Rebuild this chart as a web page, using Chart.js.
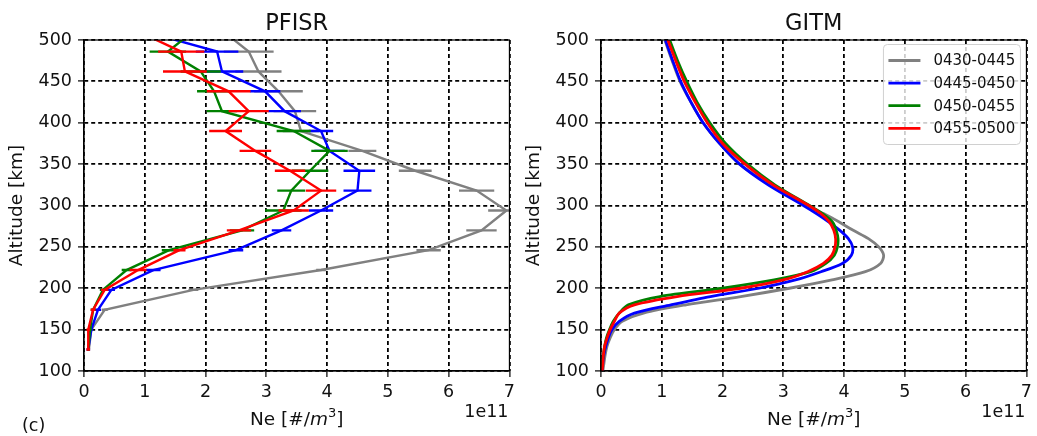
<!DOCTYPE html>
<html>
<head>
<meta charset="utf-8">
<script src="https://cdn.jsdelivr.net/npm/chart.js@4.4.1/dist/chart.umd.min.js"></script>
<style>
  html, body { margin: 0; padding: 0; background: #fff; }
  #wrap { position: relative; width: 1037px; height: 436px; }
  canvas { position: absolute; top: 0; }
  #pfisr { left: 0; }
  #gitm { left: 520px; }
</style>
</head>
<body>
<div id="wrap">
  <canvas id="pfisr" width="520" height="436"></canvas>
  <canvas id="gitm" width="517" height="436"></canvas>
</div>
<script>
// time windows (UT) and line colours
const periods = ['0430-0445', '0445-0450', '0450-0455', '0455-0500'];
const colors = ['#808080', '#0000ff', '#008000', '#ff0000'];

// x ticks (Ne in units of 1e11 m^-3) and y ticks (km)
const xTicks = [0, 1, 2, 3, 4, 5, 6, 7];
const yTicks = [100, 150, 200, 250, 300, 350, 400, 450, 500];

// PFISR range gates [km], Ne [1e11 /m^3] and 1-sigma errors
const pfisrAlt = [126, 150, 174, 198, 222, 246, 270, 294, 318, 342, 366, 390, 414, 438, 462, 486, 510];
const pfisrGray  = [0.08, 0.12, 0.34, 1.80, 3.90, 5.67, 6.54, 6.95, 6.46, 5.45, 4.58, 3.57, 3.47, 3.20, 2.87, 2.71, 2.30];
const pfisrBlue  = [0.07, 0.12, 0.23, 0.45, 1.14, 2.50, 3.25, 3.90, 4.50, 4.53, 4.04, 3.90, 3.30, 2.98, 2.27, 2.19, 1.02];
const pfisrGreen = [0.07, 0.10, 0.15, 0.31, 0.70, 1.40, 2.60, 3.28, 3.41, 3.72, 4.04, 3.45, 2.27, 2.14, 1.92, 1.38, 1.79];
const pfisrRed   = [0.07, 0.07, 0.15, 0.34, 0.89, 1.57, 2.55, 3.45, 3.90, 3.39, 2.82, 2.33, 2.71, 2.38, 1.66, 1.60, 0.90];
const errGray  = [0.02, 0.03, 0.05, 0.08, 0.08, 0.20, 0.25, 0.30, 0.29, 0.27, 0.23, 0.30, 0.35, 0.40, 0.38, 0.41, 0.40];
const errBlue  = [0.03, 0.03, 0.05, 0.06, 0.12, 0.12, 0.16, 0.20, 0.23, 0.26, 0.25, 0.20, 0.27, 0.25, 0.35, 0.35, 0.35];
const errGreen = [0.02, 0.03, 0.04, 0.05, 0.08, 0.12, 0.20, 0.30, 0.23, 0.30, 0.30, 0.28, 0.25, 0.28, 0.33, 0.30, 0.30];
const errRed   = [0.03, 0.03, 0.04, 0.06, 0.14, 0.10, 0.20, 0.25, 0.25, 0.25, 0.26, 0.27, 0.33, 0.36, 0.36, 0.38, 0.35];

// GITM profiles [km], Ne [1e11 /m^3]
const gitmAlt = [100, 110, 120, 130, 140, 150, 160, 170, 180, 190, 200, 210, 220, 230, 240, 250, 260, 270, 280, 290, 300, 325, 350, 375, 400, 425, 450, 475, 500];
const gitmGray  = [0.03, 0.05, 0.07, 0.10, 0.15, 0.22, 0.35, 0.70, 1.40, 2.30, 3.10, 3.80, 4.35, 4.60, 4.65, 4.57, 4.40, 4.15, 3.92, 3.67, 3.37, 2.78, 2.28, 1.95, 1.68, 1.48, 1.30, 1.17, 1.05];
const gitmBlue  = [0.02, 0.03, 0.05, 0.08, 0.12, 0.18, 0.30, 0.55, 1.15, 1.80, 2.60, 3.20, 3.62, 3.97, 4.12, 4.14, 4.07, 3.93, 3.75, 3.55, 3.33, 2.75, 2.28, 1.95, 1.68, 1.48, 1.31, 1.18, 1.06];
const gitmGreen = [0.01, 0.02, 0.04, 0.06, 0.09, 0.14, 0.20, 0.30, 0.45, 0.97, 2.00, 2.85, 3.45, 3.70, 3.84, 3.89, 3.90, 3.87, 3.81, 3.65, 3.43, 2.86, 2.41, 2.05, 1.79, 1.58, 1.41, 1.26, 1.13];
const gitmRed   = [0.02, 0.03, 0.04, 0.06, 0.10, 0.15, 0.22, 0.30, 0.55, 1.25, 2.30, 3.00, 3.40, 3.66, 3.80, 3.85, 3.86, 3.83, 3.76, 3.62, 3.42, 2.83, 2.37, 2.00, 1.75, 1.55, 1.37, 1.23, 1.10];

const FONT = "'DejaVu Sans', sans-serif";
const INK = '#111';

const toPoints = (ne, alt) => ne.map((v, i) => ({ x: v, y: alt[i] }));

// horizontal error bars, drawn right after their own line
const errorBars = {
  id: 'errorBars',
  afterDatasetDraw(chart, args) {
    const ds = chart.data.datasets[args.index];
    if (!ds.xErr) return;
    const { ctx, chartArea: a, scales: { x, y } } = chart;
    ctx.save();
    ctx.beginPath();
    ctx.rect(a.left, a.top, a.right - a.left, a.bottom - a.top);
    ctx.clip();
    ctx.strokeStyle = ds.borderColor;
    ctx.lineWidth = ds.borderWidth;
    ds.data.forEach((p, i) => {
      const py = y.getPixelForValue(p.y);
      ctx.beginPath();
      ctx.moveTo(x.getPixelForValue(p.x - ds.xErr[i]), py);
      ctx.lineTo(x.getPixelForValue(p.x + ds.xErr[i]), py);
      ctx.stroke();
    });
    ctx.restore();
  }
};

// frame, titles, axis labels, offset text, legend
function decorations(title, panelTag, withLegend) {
  return {
    id: 'decor',
    afterDraw(chart) {
      const { ctx, chartArea: a } = chart;
      const mid = (a.left + a.right) / 2;
      ctx.save();
      ctx.strokeStyle = '#000';
      ctx.lineWidth = 1.2;
      ctx.strokeRect(a.left, a.top, a.right - a.left, a.bottom - a.top);

      ctx.fillStyle = INK;
      ctx.textAlign = 'center';
      ctx.textBaseline = 'alphabetic';
      ctx.font = '22.5px ' + FONT;
      ctx.fillText(title, mid, 30);

      // y label
      ctx.save();
      ctx.translate(a.left - 67, (a.top + a.bottom) / 2);
      ctx.rotate(-Math.PI / 2);
      ctx.textBaseline = 'middle';
      ctx.font = '18.5px ' + FONT;
      ctx.fillText('Altitude [km]', 0, 0);
      ctx.restore();

      // x label with italic m and superscript 3
      const parts = [
        ['Ne [#/', '18.5px ' + FONT, 0],
        ['m', 'italic 18.5px ' + FONT, 0],
        ['3', '13px ' + FONT, -8],
        [']', '18.5px ' + FONT, 0]
      ];
      let w = 0;
      parts.forEach(p => { ctx.font = p[1]; w += ctx.measureText(p[0]).width; });
      let px = mid - w / 2;
      ctx.textAlign = 'left';
      parts.forEach(p => {
        ctx.font = p[1];
        ctx.fillText(p[0], px, 424.5 + p[2]);
        px += ctx.measureText(p[0]).width;
      });

      ctx.font = '17.5px ' + FONT;
      ctx.textAlign = 'right';
      ctx.fillText('1e11', a.right - 1, 417);

      if (panelTag) {
        ctx.textAlign = 'left';
        ctx.fillText(panelTag, 22, 431);
      }

      if (withLegend) {
        const bx = a.right - 143, by = a.top + 4.5, bw = 137, bh = 100;
        ctx.beginPath();
        ctx.roundRect(bx, by, bw, bh, 4);
        ctx.fillStyle = 'rgba(255,255,255,0.8)';
        ctx.fill();
        ctx.strokeStyle = '#d0d0d0';
        ctx.lineWidth = 1;
        ctx.stroke();
        ctx.font = '15px ' + FONT;
        ctx.textBaseline = 'middle';
        ctx.textAlign = 'left';
        chart.data.datasets.forEach((ds, i) => {
          const ry = by + 16 + i * 22.6;
          ctx.strokeStyle = ds.borderColor;
          ctx.lineWidth = 2.8;
          ctx.beginPath();
          ctx.moveTo(bx + 5, ry);
          ctx.lineTo(bx + 37, ry);
          ctx.stroke();
          ctx.fillStyle = INK;
          ctx.fillText(ds.label, bx + 50, ry + 1);
        });
      }
      ctx.restore();
    }
  };
}

function makeOptions(yAxisWidth, rightPad) {
  const tickFont = { family: FONT, size: 17.5 };
  const grid = {
    color: '#000',
    lineWidth: 1.8,
    tickLength: 6,
    tickColor: '#000',
    tickWidth: 1.2
  };
  return {
    responsive: false,
    animation: false,
    layout: { padding: { left: 0, right: rightPad, top: 40, bottom: 0 } },
    plugins: { legend: { display: false }, tooltip: { enabled: false }, title: { display: false } },
    elements: { point: { radius: 0 } },
    scales: {
      x: {
        type: 'linear', min: 0, max: 7,
        afterBuildTicks: s => { s.ticks = xTicks.map(v => ({ value: v })); },
        afterFit: s => { s.height = 65; },
        ticks: { font: tickFont, color: INK, padding: 5, maxRotation: 0 },
        grid: grid,
        border: { display: true, color: '#000', width: 1.2, dash: [4, 3] }
      },
      y: {
        type: 'linear', min: 100, max: 500,
        afterBuildTicks: s => { s.ticks = yTicks.map(v => ({ value: v })); },
        afterFit: s => { s.width = yAxisWidth; },
        ticks: { font: tickFont, color: INK, padding: 6 },
        grid: grid,
        border: { display: true, color: '#000', width: 1.2, dash: [4, 3] }
      }
    }
  };
}

function lineSet(label, color, ne, alt, width, order, err) {
  const ds = {
    label: label,
    data: toPoints(ne, alt),
    borderColor: color,
    backgroundColor: color,
    borderWidth: width,
    tension: 0,
    fill: false,
    clip: 0,
    order: order
  };
  if (err) ds.xErr = err;
  return ds;
}

new Chart(document.getElementById('pfisr'), {
  type: 'line',
  data: {
    datasets: [
      lineSet(periods[0], colors[0], pfisrGray, pfisrAlt, 2.4, 4, errGray),
      lineSet(periods[1], colors[1], pfisrBlue, pfisrAlt, 2.4, 3, errBlue),
      lineSet(periods[2], colors[2], pfisrGreen, pfisrAlt, 2.4, 2, errGreen),
      lineSet(periods[3], colors[3], pfisrRed, pfisrAlt, 2.4, 1, errRed)
    ]
  },
  options: makeOptions(84, 7),
  plugins: [errorBars, decorations('PFISR', '(c)', false)]
});

const gitmSets = [
  lineSet(periods[0], colors[0], gitmGray, gitmAlt, 2.8, 4),
  lineSet(periods[1], colors[1], gitmBlue, gitmAlt, 2.8, 3),
  lineSet(periods[2], colors[2], gitmGreen, gitmAlt, 2.8, 2),
  lineSet(periods[3], colors[3], gitmRed, gitmAlt, 2.8, 1)
];
gitmSets.forEach(ds => { ds.tension = 0.3; });

new Chart(document.getElementById('gitm'), {
  type: 'line',
  data: { datasets: gitmSets },
  options: makeOptions(81, 9),
  plugins: [decorations('GITM', null, true)]
});
</script>
</body>
</html>
